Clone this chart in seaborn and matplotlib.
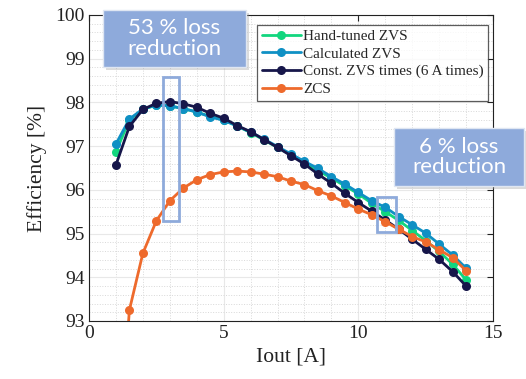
import matplotlib
matplotlib.use('Agg')
import matplotlib.pyplot as plt
from matplotlib.patches import Rectangle
from matplotlib.ticker import MultipleLocator
import seaborn as sns
import pandas as pd

# output current [A]
iout = [1.0, 1.5, 2.0, 2.5, 3.0, 3.5, 4.0, 4.5, 5.0, 5.5, 6.0, 6.5, 7.0, 7.5,
        8.0, 8.5, 9.0, 9.5, 10.0, 10.5, 11.0, 11.5, 12.0, 12.5, 13.0, 13.5, 14.0]

hand_tuned = [96.87, 97.60, 97.84, 97.94, 97.92, 97.86, 97.78, 97.68, 97.60, 97.46,
              97.31, 97.14, 96.97, 96.80, 96.62, 96.44, 96.27, 96.09, 95.91, 95.69,
              95.50, 95.30, 95.07, 94.84, 94.59, 94.30, 93.94]
calculated = [97.05, 97.62, 97.85, 97.94, 97.92, 97.86, 97.78, 97.67, 97.59, 97.46,
              97.32, 97.16, 96.99, 96.82, 96.65, 96.49, 96.30, 96.13, 95.94, 95.75,
              95.60, 95.39, 95.20, 95.01, 94.76, 94.51, 94.21]
const_zvs = [96.57, 97.45, 97.84, 97.98, 98.02, 97.97, 97.89, 97.75, 97.64, 97.47,
             97.33, 97.15, 96.97, 96.78, 96.59, 96.36, 96.15, 95.92, 95.71, 95.51,
             95.31, 95.10, 94.87, 94.64, 94.41, 94.13, 93.80]
zcs = [89.00, 93.25, 94.55, 95.29, 95.75, 96.04, 96.23, 96.35, 96.41, 96.43,
       96.41, 96.36, 96.30, 96.20, 96.12, 95.98, 95.86, 95.71, 95.56, 95.43,
       95.27, 95.10, 94.93, 94.81, 94.63, 94.45, 94.15]

series_names = ['Hand-tuned ZVS', 'Calculated ZVS', 'Const. ZVS times (6 A times)', 'ZCS']
colors = ['#12d67e', '#0f90c4', '#16164a', '#ee6a2c']
box_color = '#8eaadb'

frames = []
for name, vals in zip(series_names, [hand_tuned, calculated, const_zvs, zcs]):
    frames.append(pd.DataFrame({'Iout': iout, 'Eff': vals, 'Series': name}))
df = pd.concat(frames, ignore_index=True)

sns.set_theme(style='white')
serif = ['Liberation Serif', 'DejaVu Serif']
plt.rcParams['font.family'] = serif

fig = plt.figure(figsize=(5.26, 3.79), dpi=100)
W, H = 526.0, 379.0
ax = fig.add_axes([89 / W, 1 - 321 / H, 404 / W, 306 / H])

sns.lineplot(data=df, x='Iout', y='Eff', hue='Series', hue_order=series_names,
             palette=colors, marker='o', markersize=6.5, markeredgewidth=0,
             linewidth=2, ax=ax, legend=True, sort=False)

ax.set_xlim(0, 15)
ax.set_ylim(93, 100)
ax.xaxis.set_major_locator(MultipleLocator(5))
ax.yaxis.set_major_locator(MultipleLocator(1))
ax.xaxis.set_minor_locator(MultipleLocator(1))
ax.yaxis.set_minor_locator(MultipleLocator(0.2))
ax.grid(which='major', color='#e8e8e8', linewidth=0.8, linestyle='-')
ax.grid(which='minor', color='#d8d8d8', linewidth=0.7, linestyle=':')
ax.set_axisbelow(True)
ax.tick_params(which='major', direction='in', length=4, width=0.8, top=True, right=True,
               labelsize=14, colors='#222222', pad=3)
ax.tick_params(which='minor', length=0)
for lab in ax.get_xticklabels() + ax.get_yticklabels():
    lab.set_family(serif)
for sp in ax.spines.values():
    sp.set_color('#222222')
    sp.set_linewidth(0.8)
ax.set_xlabel('Iout [A]', fontsize=15.5, color='#222222', labelpad=4, family=serif)
ax.set_ylabel('Efficiency [%]', fontsize=15.5, color='#222222', labelpad=6, family=serif)

handles, labels = ax.get_legend_handles_labels()
leg = ax.legend(handles, labels, loc='upper left', bbox_to_anchor=(257 / W, 1 - 25 / H),
                bbox_transform=fig.transFigure, borderaxespad=0, frameon=True,
                fancybox=False, prop={'family': serif, 'size': 11}, handlelength=2.6,
                handletextpad=0.1, labelspacing=0.25, borderpad=0.3)
leg.get_frame().set_edgecolor('#333333')
leg.get_frame().set_linewidth(0.9)

# highlight rectangles on the data
ax.add_patch(Rectangle((2.73, 95.29), 0.62, 3.29, fill=False, edgecolor=box_color,
                       linewidth=2, zorder=5))
ax.add_patch(Rectangle((10.71, 95.04), 0.68, 0.80, fill=False, edgecolor=box_color,
                       linewidth=2, zorder=5))

# callout boxes
def callout(x0, y0, x1, y1, text):
    fig.add_artist(Rectangle((x0 / W + 3 / W, 1 - y1 / H - 3 / H), (x1 - x0) / W, (y1 - y0) / H,
                             transform=fig.transFigure, facecolor='#999999', alpha=0.35,
                             edgecolor='none', zorder=9))
    fig.add_artist(Rectangle((x0 / W, 1 - y1 / H), (x1 - x0) / W, (y1 - y0) / H,
                             transform=fig.transFigure, facecolor=box_color,
                             edgecolor='#dfe6f2', linewidth=1, zorder=10))
    fig.text((x0 + x1) / 2 / W, 1 - (y0 + y1) / 2 / H, text, ha='center', va='center',
             color='white', fontsize=16, family=['Lato', 'DejaVu Sans'], zorder=11,
             linespacing=1.05)

callout(103, 10, 246, 67, '53 % loss\nreduction')
callout(394, 128, 524, 186, '6 % loss\nreduction')

fig.savefig('out.png', dpi=100)
